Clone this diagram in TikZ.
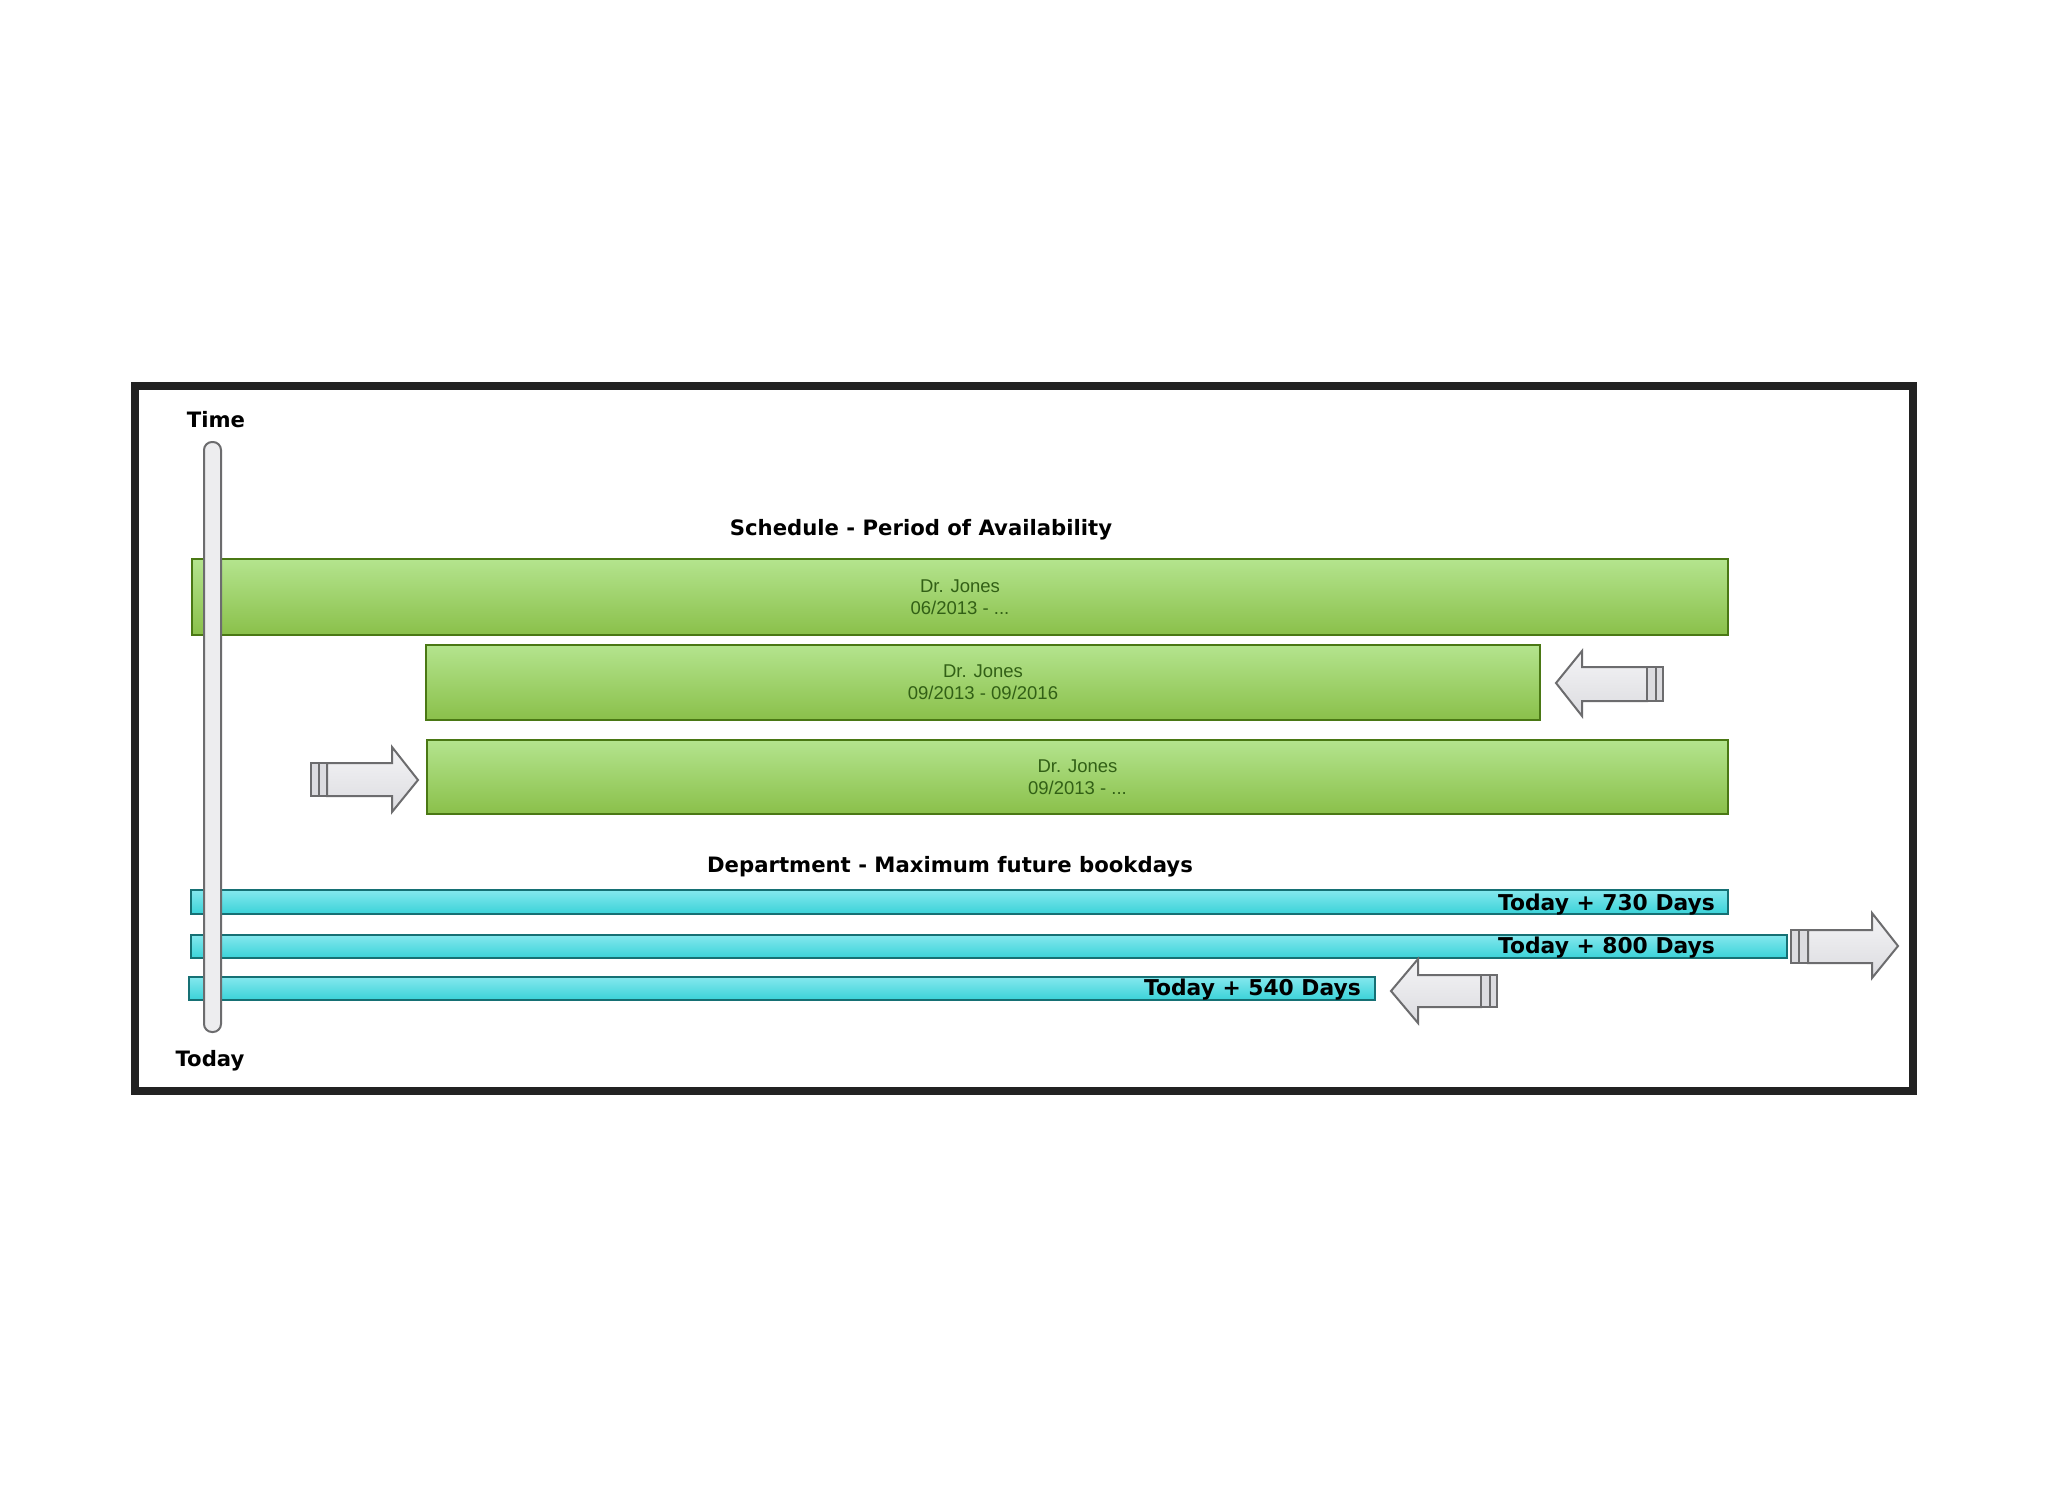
\documentclass[tikz,border=0pt]{standalone}
\usepackage{fontspec}
\setmainfont{DejaVu Sans}
\newfontfamily\arialf{Liberation Sans}
\definecolor{gtop}{RGB}{180,228,142}
\definecolor{gbot}{RGB}{138,192,74}
\definecolor{gborder}{RGB}{74,120,20}
\definecolor{gtext}{RGB}{50,96,22}
\definecolor{ctop}{RGB}{132,232,238}
\definecolor{cbot}{RGB}{58,210,216}
\definecolor{cborder}{RGB}{22,112,116}
\definecolor{agray}{RGB}{108,108,110}
\definecolor{atop}{RGB}{244,244,246}
\definecolor{abot}{RGB}{220,220,224}
\definecolor{framec}{RGB}{34,34,34}
\tikzset{
  titletext/.style={font=\fontsize{21.2}{25}\selectfont\bfseries, text=black, inner sep=0pt},
  daystext/.style={font=\fontsize{21.8}{25}\selectfont\bfseries, text=black, inner sep=0pt},
  greenbar/.style={draw=gborder, line width=2pt, top color=gtop, bottom color=gbot, inner sep=0pt, align=center, text=gtext, font=\arialf\fontsize{18.5}{22}\selectfont},
  cyanbar/.style={draw=cborder, line width=2pt, top color=ctop, bottom color=cbot, inner sep=0pt},
  bigarrow/.style={draw=agray, line width=2pt, top color=atop, bottom color=abot, line join=miter},
  arrowcap/.style={draw=agray, line width=2.5pt, fill=abot},
}
\begin{document}
\begin{tikzpicture}[x=1pt,y=-1pt]
\useasboundingbox (0,0) rectangle (2048,1492);
\fill[white] (0,0) rectangle (2048,1492);
% frame
\draw[framec, line width=8pt] (135,386) rectangle (1913,1091);
% titles
\node[titletext] (time) at (216,420) {Time};
\node[titletext] (today) at (210,1061) {Today};
\node[titletext] (sched) at (921,530) {Schedule - Period of Availability};
\node[titletext] (dept) at (950,867) {Department - Maximum future bookdays};
% green bars
\node[greenbar, minimum width=1536pt, minimum height=76pt] (g1) at (960,597) {Dr. Jones\\06/2013 - ...};
\node[greenbar, minimum width=1114pt, minimum height=75pt] (g2) at (983,682.5) {Dr. Jones\\09/2013 - 09/2016};
\node[greenbar, minimum width=1301pt, minimum height=74pt] (g3) at (1077.5,777) {Dr. Jones\\09/2013 - ...};
% cyan bars
\node[cyanbar, minimum width=1537pt, minimum height=24pt] (c1) at (959.5,902) {};
\node[cyanbar, minimum width=1596pt, minimum height=23pt] (c2) at (989,946.5) {};
\node[cyanbar, minimum width=1186pt, minimum height=23pt] (c3) at (782,988.5) {};
\node[daystext, anchor=east] (t1) at ([xshift=-14pt,yshift=-3pt]c1.east) {Today + 730 Days};
\node[daystext, anchor=west] (t2) at ([yshift=-1.5pt]t1.west |- c2.center) {Today + 800 Days};
\node[daystext, anchor=east] (t3) at ([xshift=-15pt,yshift=-1.5pt]c3.east) {Today + 540 Days};
% arrow beside g2 (pointing left)
\path[bigarrow] (1556,683) -- (1582,651) -- (1582,667) -- (1647,667) -- (1647,701) -- (1582,701) -- (1582,716) -- cycle;
\draw[arrowcap] (1647,667) rectangle (1656,701);
\draw[arrowcap] (1656,667) rectangle (1663,701);
% arrow beside g3 (pointing right)
\path[bigarrow] (418,780) -- (392,747) -- (392,763) -- (327,763) -- (327,796) -- (392,796) -- (392,812) -- cycle;
\draw[arrowcap] (311,763) rectangle (319,796);
\draw[arrowcap] (319,763) rectangle (327,796);
% arrow beside c2 (pointing right)
\path[bigarrow] (1898,946) -- (1872,913) -- (1872,930) -- (1808,930) -- (1808,963) -- (1872,963) -- (1872,978) -- cycle;
\draw[arrowcap] (1791,930) rectangle (1799,963);
\draw[arrowcap] (1799,930) rectangle (1808,963);
% arrow beside c3 (pointing left)
\path[bigarrow] (1391,991) -- (1418,959) -- (1418,975) -- (1481,975) -- (1481,1007) -- (1418,1007) -- (1418,1023) -- cycle;
\draw[arrowcap] (1481,975) rectangle (1490,1007);
\draw[arrowcap] (1490,975) rectangle (1497,1007);
% time bar
\node[draw=agray, line width=2pt, fill=atop!70!abot, rounded corners=8pt, minimum width=17pt, minimum height=590pt, inner sep=0pt] (tbar) at (212.5,737) {};
\end{tikzpicture}
\end{document}
